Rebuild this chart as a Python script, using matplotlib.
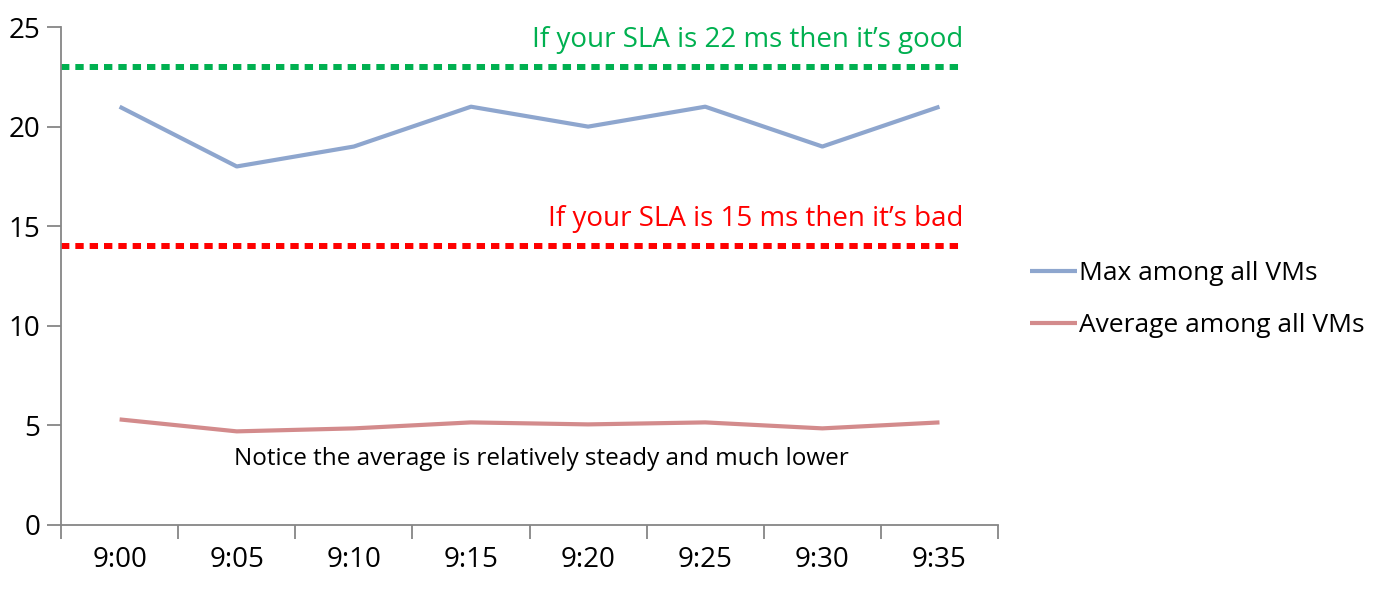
import matplotlib
matplotlib.use("Agg")
import matplotlib.pyplot as plt
import numpy as np

# data
times = ["9:00", "9:05", "9:10", "9:15", "9:20", "9:25", "9:30", "9:35"]
max_vals = [21, 18, 19, 21, 20, 21, 19, 21]
avg_vals = [5.3, 4.7, 4.85, 5.15, 5.05, 5.15, 4.85, 5.15]
sla_good = 23
sla_bad = 14

plt.rcParams["font.family"] = ["Open Sans", "DejaVu Sans"]

BLUE = "#8EA6CE"
RED = "#D38B8C"
GRID = "#868686"

fig = plt.figure(figsize=(13.81, 5.94), dpi=100)
ax = fig.add_axes([0.0442, 0.1162, 0.6785, 0.8383])

x = np.arange(len(times))
ax.plot(x, max_vals, color=BLUE, lw=3, label="Max among all VMs", solid_capstyle="butt")
ax.plot(x, avg_vals, color=RED, lw=3, label="Average among all VMs", solid_capstyle="butt")

# SLA reference lines
xs = [-0.5, 7.2]
ax.plot(xs, [sla_good, sla_good], color="#00B050", lw=4.3, ls=(0, (1.4, 1.0)),
        dash_capstyle="butt")
ax.plot(xs, [sla_bad, sla_bad], color="#FF0000", lw=4.3, ls=(0, (1.4, 1.0)),
        dash_capstyle="butt")
ax.text(7.2, sla_good + 0.65, "If your SLA is 22 ms then it\u2019s good", color="#00B050",
        fontsize=20, ha="right", va="bottom")
ax.text(7.2, sla_bad + 0.65, "If your SLA is 15 ms then it\u2019s bad", color="#FF0000",
        fontsize=20, ha="right", va="bottom")
ax.text(3.6, 3.3, "Notice the average is relatively steady and much lower",
        color="black", fontsize=17.5, ha="center", va="center")

ax.set_xlim(-0.5, 7.5)
ax.set_ylim(0, 25)
ax.set_yticks([0, 5, 10, 15, 20, 25])
ax.set_xticks(x)
ax.set_xticklabels(times)
ax.set_xticks(np.arange(-0.5, 8, 1), minor=True)
ax.tick_params(axis="x", which="major", length=0, labelsize=20, pad=15)
ax.tick_params(axis="x", which="minor", length=10, width=1.3, color=GRID, direction="out")
ax.tick_params(axis="y", length=10, width=1.3, color=GRID, labelsize=20, pad=5)

for s in ["top", "right"]:
    ax.spines[s].set_visible(False)
for s in ["left", "bottom"]:
    ax.spines[s].set_color(GRID)
    ax.spines[s].set_linewidth(1.3)

leg = ax.legend(loc="upper left", bbox_to_anchor=(0.729, 0.6), bbox_transform=fig.transFigure,
                frameon=False, fontsize=19, handlelength=1.75, handletextpad=0.1,
                labelspacing=1.0)

fig.savefig("out.png", dpi=100)
